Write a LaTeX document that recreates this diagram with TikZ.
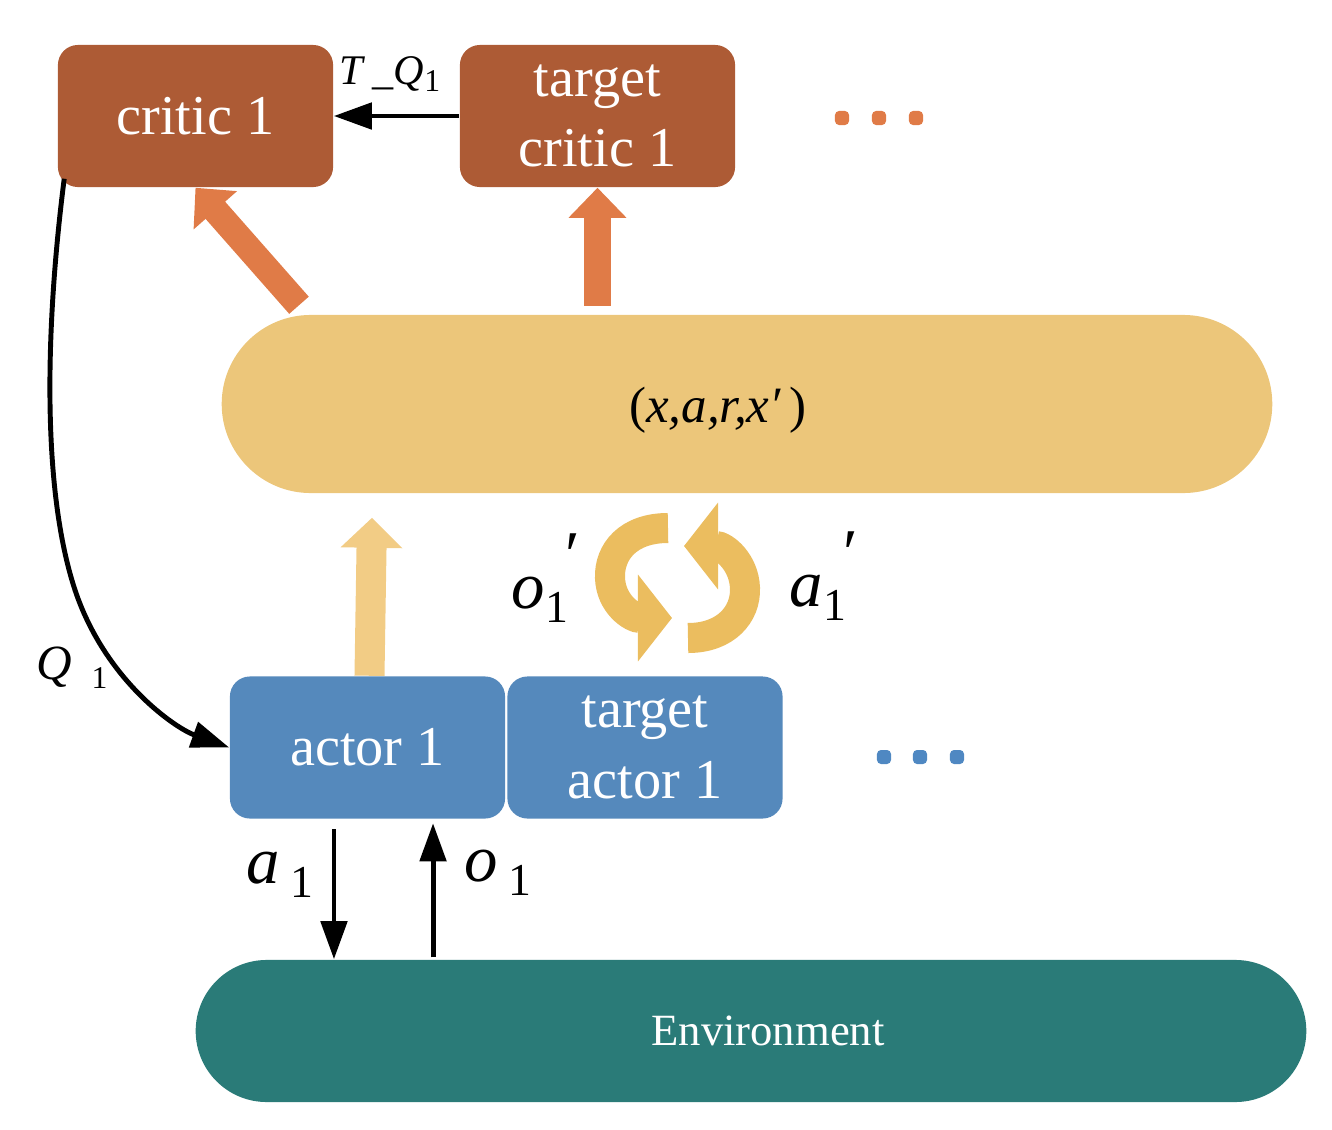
\documentclass[tikz,border=0pt]{standalone}
\usepackage{fontspec}
\setmainfont{Liberation Serif}
\usetikzlibrary{arrows.meta,calc}
\definecolor{criticc}{RGB}{173,91,53}
\definecolor{orangec}{RGB}{224,123,71}
\definecolor{bandc}{RGB}{236,198,122}
\definecolor{yarrowc}{RGB}{242,204,133}
\definecolor{cyclec}{RGB}{235,189,95}
\definecolor{actorc}{RGB}{85,137,188}
\definecolor{bluedotc}{RGB}{79,136,194}
\definecolor{envc}{RGB}{42,123,120}
\newcommand{\sublbl}[2]{\textit{#1}\,\raisebox{-0.45ex}{\fontsize{13}{13}\selectfont #2}}
\newcommand{\primelbl}[2]{\textit{#1}\makebox[0pt][l]{\hspace{0.3em}\raisebox{1.0ex}{′}}\raisebox{-0.45ex}{\fontsize{13}{13}\selectfont #2}\hspace{0.25em}}
\begin{document}
\begin{tikzpicture}[x=0.01cm,y=-0.01cm,
  box/.style={rounded corners=0.2cm, minimum width=2.75cm, minimum height=1.42cm,
    inner sep=0pt, text=white, align=center, font=\fontsize{16}{20}\selectfont},
  criticbox/.style={box, fill=criticc},
  actorbox/.style={box, fill=actorc},
  band/.style={inner sep=0pt},
  fat/.style={line width=0.26cm, -{Triangle[width=0.56cm,length=0.3cm]}},
  blk/.style={line width=1.4pt, -{Triangle[width=0.26cm,length=0.38cm]}},
  cyc/.style={cyclec, line width=0.3cm, -{Triangle[width=0.85cm,length=0.34cm]}},
  lbl/.style={font=\fontsize{19}{19}\selectfont, inner sep=0pt},
  sdot/.style={rounded corners=0.04cm, minimum size=0.14cm, inner sep=0pt}]
  \useasboundingbox (0,0) rectangle (1332,1130);

  % critics
  \node[criticbox] (critic) at (195.5,116) {critic 1};
  \node[criticbox] (tcritic) at (597.5,116) {target\\critic 1};
  \foreach \x in {842,879,916}
    \node[sdot, fill=orangec] (cdot\x) at (\x,118) {};

  % replay buffer
  \node[band, fill=bandc, minimum width=10.5cm, minimum height=1.78cm,
    rounded corners=0.89cm] (band) at (747,404) {};
  \node[font=\fontsize{14.5}{14.5}\selectfont, inner sep=0pt] (lbuf) at (718,410)
    {(\textit{x,a,r,x′}\,)};

  % actors
  \node[actorbox] (actor) at (367.5,747.5) {actor 1};
  \node[actorbox] (tactor) at (645,747.5) {target\\actor 1};
  \foreach \x in {884,920,957}
    \node[sdot, fill=bluedotc] (adot\x) at (\x,757) {};

  % environment
  \node[band, fill=envc, minimum width=11.1cm, minimum height=1.42cm,
    rounded corners=0.71cm] (env) at (751,1031) {};
  \node[text=white, font=\fontsize{12.7}{12.7}\selectfont, inner sep=0pt] (lenv)
    at (768,1031) {Environment};

  % thick arrows
  \draw[fat, orangec] ($(band.north west)+(78,-9)$) -- (critic.south);
  \draw[fat, orangec] ($(tcritic.south)+(0,118)$) -- (tcritic.south);
  \draw[yarrowc, line width=0.3cm, -{Triangle[width=0.6cm,length=0.3cm]}]
    ($(actor.north)+(2,0)$) -- ($(band.south)+(-375,24)$);

  % cycle
  \draw[cyc] (668,528) .. controls (628,528) and (609,552) .. (610,578)
    .. controls (611,604) and (632,618) .. (672,618);
  \draw[cyc] (688,638) .. controls (726,638) and (746,614) .. (745,588)
    .. controls (744,562) and (724,546) .. (684,546);
  \node[lbl] (lo1p) at (540,578) {\primelbl{o}{1}};
  \node[lbl] (la1p) at (818,576) {\primelbl{a}{1}};

  % black arrows
  \draw[blk] (tcritic.west) -- (critic.east);
  \node[font=\fontsize{12}{12}\selectfont, inner sep=0pt] (ltq) at (390,74)
    {\textit{T}\,\_\textit{Q}\raisebox{-0.4ex}{\fontsize{9}{9}\selectfont 1}};
  \coordinate (qstart) at ($(critic.south west)+(7,-9)$);
  \draw[blk] (qstart) .. controls (45,330) and (42,490) .. (75,590)
    .. controls (105,680) and (175,728) .. (actor.west);
  \node[font=\fontsize{14}{14}\selectfont, inner sep=0pt] (lq) at (72,668)
    {\textit{Q}\hspace{0.4em}\raisebox{-0.4ex}{\fontsize{9}{9}\selectfont 1}};

  \coordinate (a1s) at ([xshift=-0.335cm,yshift=-0.1cm]actor.south);
  \coordinate (o1s) at ([xshift=0.655cm,yshift=-0.04cm]actor.south);
  \draw[blk] (a1s) -- (a1s |- env.north);
  \draw[blk] ([yshift=0.02cm]o1s |- env.north) -- (o1s);
  \node[lbl] (la1) at (280,875) {\sublbl{a}{1}};
  \node[lbl] (lo1) at (498,873) {\sublbl{o}{1}};
\end{tikzpicture}
\end{document}
